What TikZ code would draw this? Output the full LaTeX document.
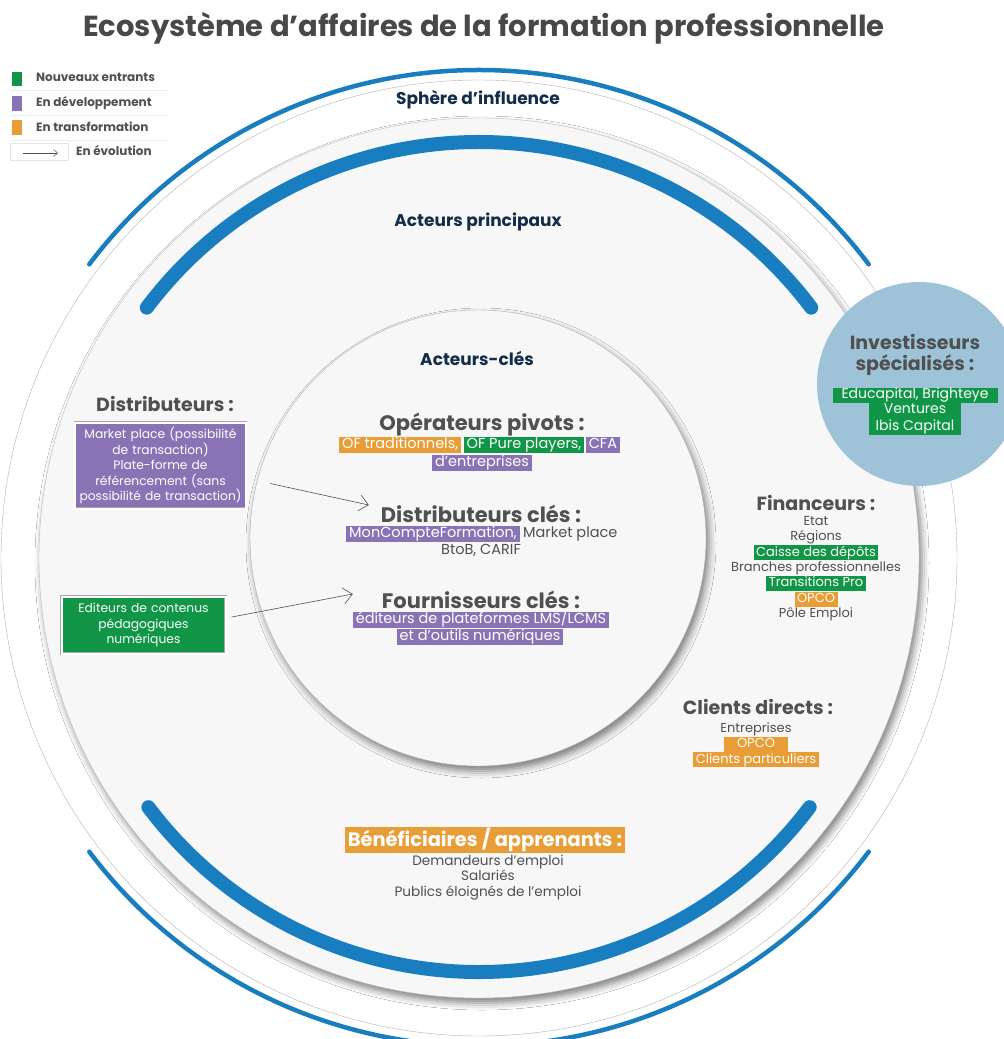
\documentclass[tikz,border=0pt]{standalone}
\usepackage{fontspec}
\setmainfont{Poppins}
\usetikzlibrary{positioning,arrows.meta,shadows.blur}

\definecolor{bleu}{RGB}{24,126,192}
\definecolor{vert}{RGB}{16,150,70}
\definecolor{violet}{RGB}{138,115,181}
\definecolor{orangeT}{RGB}{232,157,55}
\definecolor{marine}{RGB}{18,45,72}
\definecolor{texte}{RGB}{80,80,80}
\definecolor{ciel}{RGB}{158,195,217}
\definecolor{fond}{RGB}{247,247,247}

\begin{document}
\begin{tikzpicture}[x=1pt,y=-1pt,
    disque/.style={circle,inner sep=0pt,minimum size=#1},
    ombre/.style={blur shadow={shadow xshift=3pt,shadow yshift=-5pt,shadow blur radius=7pt,shadow opacity=50}},
    arcfin/.style={bleu,line width=4.5pt,line cap=round},
    arcepais/.style={bleu,line width=14pt,line cap=round},
    cercle/.style={font=\bfseries\fontsize{17}{19}\selectfont,text=marine},
    titre/.style={font=\bfseries\fontsize{21}{23}\selectfont,text=texte,inner sep=0pt},
    titreb/.style={font=\bfseries\fontsize{19}{21}\selectfont,text=texte,inner sep=0pt},
    ligne/.style={font=\fontsize{13}{15}\selectfont,text=texte,inner xsep=2.5pt,inner ysep=1.25pt,text height=9.5pt,text depth=3pt},
    lignec/.style={font=\fontsize{14.5}{17}\selectfont,text=texte,inner xsep=3pt,inner ysep=1pt,text height=10.5pt,text depth=3.5pt},
    tag/.style={ligne,fill=#1,text=white},
    tagc/.style={lignec,fill=#1,text=white},
    boite/.style={fill=#1,text=white,draw=gray!70,double=white,double distance=2pt,align=center,font=\fontsize{12.3}{15.5}\selectfont,inner sep=1.5pt},
    legende/.style={font=\bfseries\fontsize{12}{13}\selectfont,text=texte,anchor=west,inner sep=0pt},
    evol/.style={draw=texte,line width=0.6pt,-{Straight Barb[length=9pt,width=16pt]}}]
\useasboundingbox (0,0) rectangle (1004,1039);
\clip (0,0) rectangle (1004,1039);

% titre
\node[font=\bfseries\fontsize{29}{32}\selectfont,text=texte!90!black] (titre) at (484,28) {Ecosystème d'affaires de la formation professionnelle};

% legende
\fill[vert] (12,72) rectangle (22,86);
\fill[violet] (12,96) rectangle (22,111);
\fill[orangeT] (12,120) rectangle (22,135);
\draw[gray!15] (10,90) -- (168,90) (10,115) -- (168,115) (10,140) -- (168,140);
\draw[gray!20] (10,143) rectangle (68,160);
\node[legende] (l1) at (36,77) {Nouveaux entrants};
\node[legende] (l2) at (36,103) {En développement};
\node[legende] (l3) at (36,127) {En transformation};
\node[legende] (l4) at (76,151) {En évolution};
\coordinate (la) at (23,153);
\coordinate (lb) at (58,153);
\draw[texte,line width=0.5pt,-{Straight Barb[length=4pt,width=7pt]}] (la) -- (lb);

% cercles
\coordinate (C) at (479,558);
\node[disque=956pt,draw=gray!60,fill=white] (sphere) at (C) {};
\draw[arcfin] ([shift={(37:488pt)}]C) arc[start angle=37,end angle=143,radius=488pt];
\draw[arcfin] ([shift={(217:488pt)}]C) arc[start angle=217,end angle=323,radius=488pt];
\node[disque=880pt,draw=gray!50,fill=fond,ombre] (princ) at (C) {};
\draw[arcepais] ([shift={(37:416pt)}]C) arc[start angle=37,end angle=143,radius=416pt];
\draw[arcepais] ([shift={(217:414pt)}]C) arc[start angle=217,end angle=323,radius=414pt];
\node[disque=204pt,fill=ciel] (invest) at (919,384) {};
\node[disque=456pt,draw=gray!60,fill=fond,ombre] (cles) at (478,538) {};

\node[cercle] (sph) at (478,100) {Sphère d’influence};
\node[cercle] (acp) at (478,222) {Acteurs principaux};
\node[cercle] (acc) at (477,358) {Acteurs-clés};

% acteurs-cles
\node[titre] (opiv) at (482,425) {Opérateurs pivots :};
\node[tagc=vert] (ofpure) at (524,445) {OF Pure players,};
\node[tagc=orangeT,left=2pt of ofpure] (oftrad) {OF traditionnels,};
\node[tagc=violet,right=1pt of ofpure] (cfa) {CFA};
\node[tagc=violet] (entr) at (482,463) {d'entreprises};

\node[titre] (dcles) at (481,514) {Distributeurs clés :};
\node[tagc=violet] (mcf) at (433,534) {MonCompteFormation,};
\node[lignec,right=0pt of mcf] (mkt) {Market place};
\node[lignec] (btob) at (481,551) {BtoB, CARIF};

\node[titre] (fcles) at (481,600) {Fournisseurs clés :};
\node[tagc=violet] (lms) at (481,620) {éditeurs de plateformes LMS/LCMS};
\node[tagc=violet] (outils) at (480,637) {et d'outils numériques};

% distributeurs
\node[titreb] (distr) at (165,404) {Distributeurs :};
\node[boite=violet,text width=168pt,minimum height=86pt] (distbox) at (160.5,465.5) {Market place (possibilité\\de transaction)\\Plate-forme de\\référencement (sans\\possibilité de transaction)};
\node[boite=vert,text width=161pt,minimum height=57pt] (editbox) at (143.5,625) {Editeurs de contenus\\pédagogiques\\numériques};
\draw[evol] ([shift={(24pt,-18pt)}]distbox.east) -- ([shift={(-12pt,9pt)}]dcles.west);
\draw[evol] ([shift={(6pt,8pt)}]editbox.east) -- ([shift={(-29pt,6pt)}]fcles.west);

% investisseurs
\node[titreb,align=center,font=\bfseries\fontsize{19}{21}\selectfont] (invt) at (915,355) {Investisseurs\\spécialisés :};
\node[tag=vert,font=\fontsize{14}{16.5}\selectfont,inner xsep=9pt] (educ) at (915,395) {Educapital, Brighteye};
\node[tag=vert,align=center,text height=,text depth=,font=\fontsize{14}{16.5}\selectfont,inner xsep=7pt,below=0pt of educ] (ibis) {Ventures\\Ibis Capital};

% financeurs
\node[titreb] (fin) at (816,503) {Financeurs :};
\node[ligne] (etat) at (816,522) {Etat};
\node[ligne,below=0pt of etat] (reg) {Régions};
\node[tag=vert,below=0pt of reg] (cdc) {Caisse des dépôts};
\node[ligne,below=0pt of cdc] (branch) {Branches professionnelles};
\node[tag=vert,below=0pt of branch] (trans) {Transitions Pro};
\node[tag=orangeT,below=0pt of trans] (opco) {OPCO};
\node[ligne,below=0pt of opco] (pole) {Pôle Emploi};

% clients directs
\node[titreb] (cli) at (758,707) {Clients directs :};
\node[ligne] (ent) at (756,729) {Entreprises};
\node[tag=orangeT,minimum width=64pt,below=0pt of ent] (opco2) {OPCO};
\node[tag=orangeT,below=0pt of opco2] (part) {Clients particuliers};

% beneficiaires
\node[titreb,fill=orangeT,text=white,inner xsep=3pt,inner ysep=1pt,font=\bfseries\fontsize{19.4}{21}\selectfont] (benef) at (485,840) {Bénéficiaires / apprenants :};
\node[ligne,font=\fontsize{13.6}{15}\selectfont] (dem) at (488,862) {Demandeurs d'emploi};
\node[ligne,font=\fontsize{13.6}{15}\selectfont,below=0pt of dem] (sal) {Salariés};
\node[ligne,font=\fontsize{13.6}{15}\selectfont,below=0pt of sal] (pub) {Publics éloignés de l’emploi};
\end{tikzpicture}
\end{document}
